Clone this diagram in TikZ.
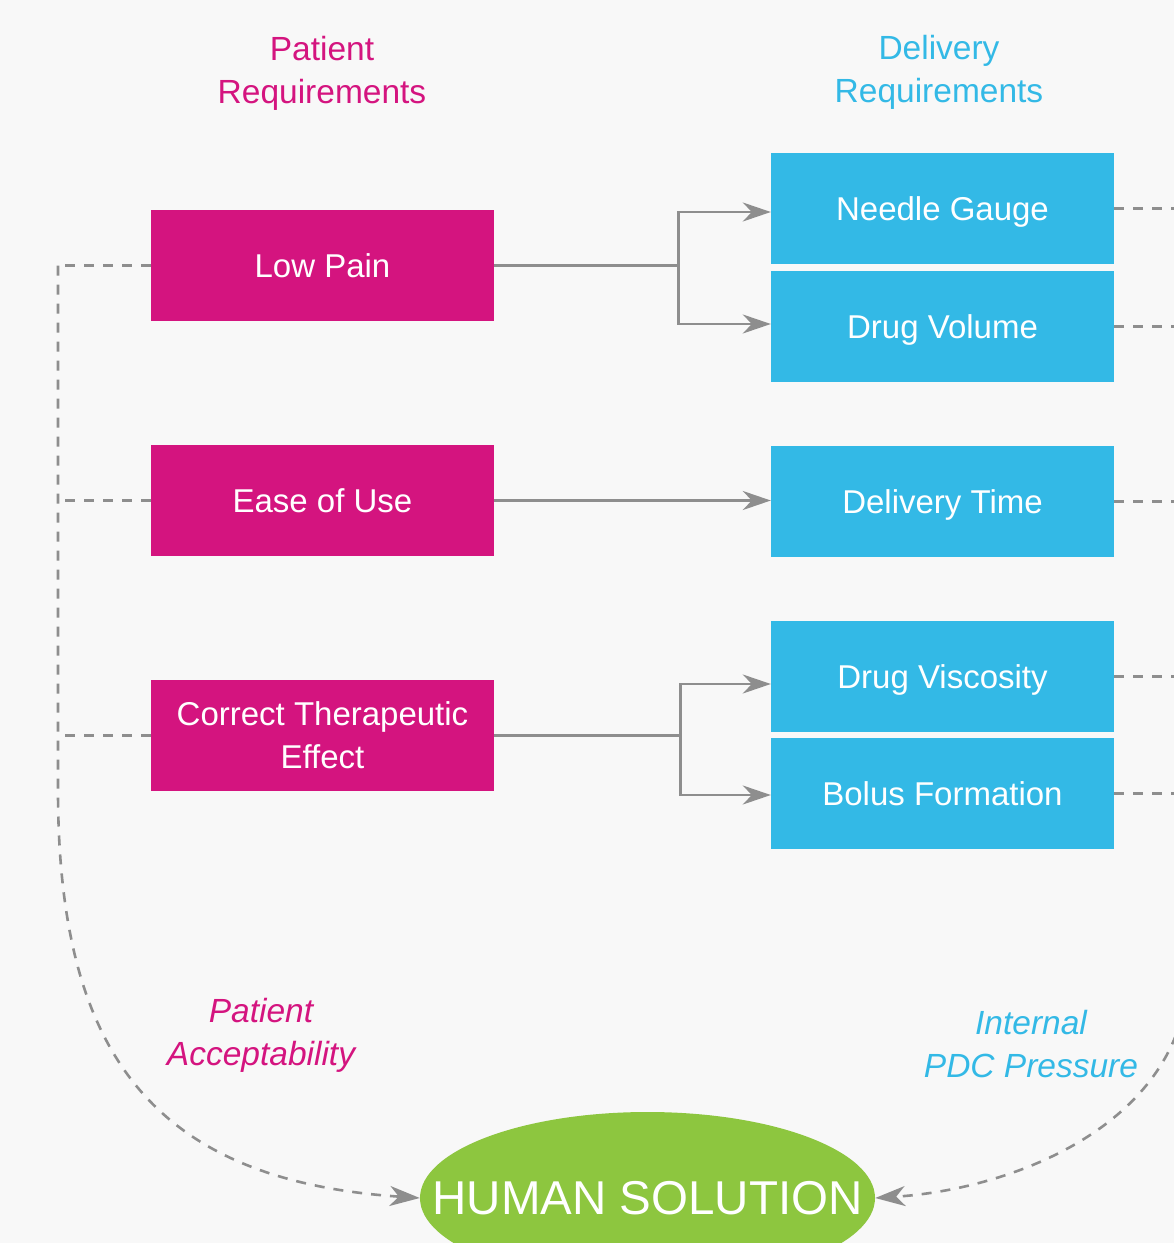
\documentclass[tikz,border=0pt]{standalone}
\usepackage{fontspec}
\setmainfont{Liberation Sans}
\usetikzlibrary{arrows.meta,shapes.geometric}

\definecolor{patmag}{HTML}{D4147F}
\definecolor{delcyan}{HTML}{33B9E6}
\definecolor{solgreen}{HTML}{8DC63F}
\definecolor{linegray}{HTML}{8E8E8E}
\definecolor{paper}{HTML}{F8F8F8}

\begin{document}
\begin{tikzpicture}[x=1pt, y=-1pt,
  patbox/.style={fill=patmag, text=white, minimum width=343pt, minimum height=111pt,
    inner sep=0pt, align=center, text height=23.6pt, text depth=0pt,
    font=\fontsize{33}{43}\selectfont},
  delbox/.style={fill=delcyan, text=white, minimum width=343pt, minimum height=111pt,
    inner sep=0pt, align=center, text height=23.6pt, text depth=0pt,
    font=\fontsize{33}{43}\selectfont},
  title/.style={align=center, font=\fontsize{33.5}{43}\selectfont},
  link/.style={draw=linegray, line width=2.6pt,
    -{Stealth[length=28pt, width=19pt, inset=9pt]}},
  dashlink/.style={draw=linegray, line width=2.6pt, dash pattern=on 10pt off 9pt}]

% Canvas
\fill[paper] (0,0) rectangle (1174,1243);
\useasboundingbox (0,0) rectangle (1174,1243);

% Edges for the dashed lines
\coordinate (ledge) at (58,0);
\coordinate (redge) at (1174,0);

% Column titles
\node[title, text=patmag] (pattitle) at (322,73) {Patient\\Requirements};
\node[title, text=delcyan] (deltitle) at (939,72) {Delivery\\Requirements};

% Patient requirements
\node[patbox] (lowpain) at (322.5,265.5) {Low Pain};
\node[patbox] (ease) at (322.5,500.5) {Ease of Use};
\node[patbox, text height={}, text depth={}] (effect) at (322.5,735.5) {Correct Therapeutic\\Effect};

% Delivery requirements
\node[delbox] (gauge) at (942.5,208.5) {Needle Gauge};
\node[delbox] (volume) at (942.5,326.5) {Drug Volume};
\node[delbox] (dtime) at (942.5,501.5) {Delivery Time};
\node[delbox] (visc) at (942.5,676.5) {Drug Viscosity};
\node[delbox] (bolus) at (942.5,793.5) {Bolus Formation};

% Solution
\node[ellipse, fill=solgreen, text=white, minimum width=455pt, minimum height=172pt,
  inner sep=0pt, font=\fontsize{47.5}{50}\selectfont] (human) at (647.5,1198)
  {\makebox[0pt]{HUMAN SOLUTION}};

% Links
\draw[link] (lowpain.east) -- ++(184,0) |- ([yshift=-3.5pt]gauge.west);
\draw[link] (lowpain.east) -- ++(184,0) |- ([yshift=2.5pt]volume.west);
\draw[link] (ease.east) -- (ease.east -| dtime.west);
\draw[link] (effect.east) -- ++(186,0) |- ([yshift=-7.5pt]visc.west);
\draw[link] (effect.east) -- ++(186,0) |- ([yshift=-1.5pt]bolus.west);

% Dashed feedback, left
\draw[dashlink] (lowpain.west) -- (lowpain.west -| ledge);
\draw[dashlink] (ease.west) -- (ease.west -| ledge);
\draw[dashlink] (effect.west) -- (effect.west -| ledge);
\draw[dashlink, -{Stealth[length=30pt, width=20pt, inset=9pt]}]
  (lowpain.west -| ledge) -- (58,790) .. controls (58,1050) and (150,1180) .. (human.west);

% Dashed feedback, right
\foreach \b in {gauge,volume,dtime,visc,bolus}
  \draw[dashlink] (\b.east) -- (\b.east -| redge);
\coordinate (pdc) at (1176,1035);
\draw[dashlink, -{Stealth[length=30pt, width=20pt, inset=9pt]}]
  (pdc) .. controls (1135,1140) and (1000,1190) .. (human.east);

% Feedback labels
\node[title, text=patmag, font=\itshape\fontsize{33.5}{43}\selectfont] (accept) at (261,1035) {Patient\\Acceptability};
\node[title, text=delcyan, font=\itshape\fontsize{33.5}{43}\selectfont] (pressure) at (1031,1044) {Internal\\PDC Pressure};

\end{tikzpicture}
\end{document}
